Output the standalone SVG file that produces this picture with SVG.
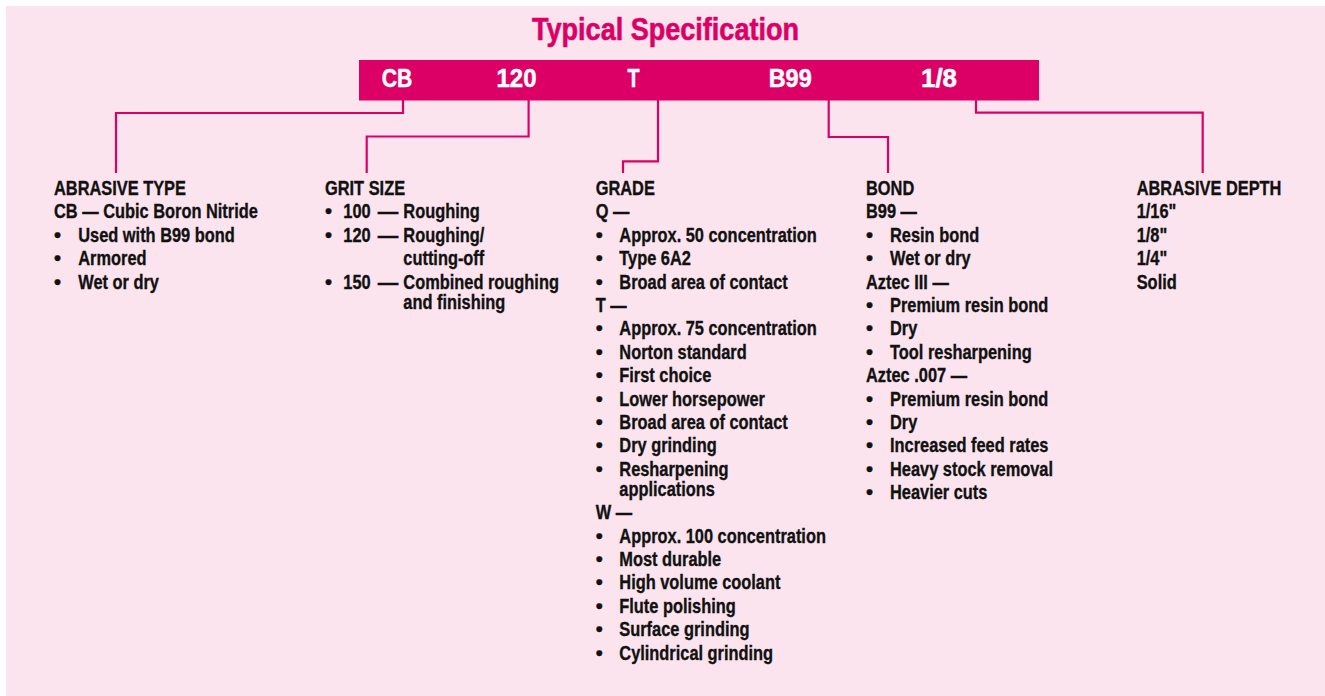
<svg xmlns="http://www.w3.org/2000/svg" width="1325" height="696" viewBox="0 0 1325 696">
<style>
.bg{fill:#fbe4ee}
.mag{fill:#dc0066}
.title{font-family:"Liberation Sans",Arial,sans-serif;font-weight:bold;font-size:32px;fill:#dc0066;stroke:#dc0066;stroke-width:0.6}
.code{font-family:"Liberation Sans",Arial,sans-serif;font-weight:bold;font-size:26px;fill:#fff;stroke:#fff;stroke-width:0.5;text-anchor:middle}
.b{font-family:"Liberation Sans",Arial,sans-serif;font-weight:bold;font-size:20px;fill:#111;stroke:#111;stroke-width:0.35}
.conn{fill:none;stroke:#dc0066;stroke-width:2.2}
</style>
<rect class="bg" x="6" y="6" width="1319" height="690"/>
<g id="title">
<text class="title" x="532" y="40" textLength="267" lengthAdjust="spacingAndGlyphs">Typical Specification</text>
</g>
<g id="spec-bar">
<rect class="mag" x="359" y="60" width="680" height="40.5"/>
<text class="code" x="397" y="87.3" textLength="30.6" lengthAdjust="spacingAndGlyphs">CB</text>
<text class="code" x="516.5" y="87.3" textLength="40" lengthAdjust="spacingAndGlyphs">120</text>
<text class="code" x="633.4" y="87.3" textLength="12" lengthAdjust="spacingAndGlyphs">T</text>
<text class="code" x="790.2" y="87.3" textLength="43" lengthAdjust="spacingAndGlyphs">B99</text>
<text class="code" x="939" y="87.3" textLength="36" lengthAdjust="spacingAndGlyphs">1/8</text>
</g>
<g id="connectors">
<path class="conn" d="M403,100 V113 H116 V173"/>
<path class="conn" d="M528.6,100 V136.5 H366.7 V173"/>
<path class="conn" d="M658,100 V161.3 H623 V173"/>
<path class="conn" d="M828.7,100 V137 H888 V173"/>
<path class="conn" d="M976,100 V112.7 H1202.7 V173"/>
</g>
<g id="abrasive-type">
<g class="b">
<text x="54" y="241.8">•</text>
<text x="54" y="265.2">•</text>
<text x="54" y="288.6">•</text>
</g>
<g transform="translate(54,0) scale(0.82,1)">
<text class="b" x="0" y="195">ABRASIVE TYPE</text>
<text class="b" x="0" y="218.4">CB — Cubic Boron Nitride</text>
<text class="b" x="29.6" y="241.8">Used with B99 bond</text>
<text class="b" x="29.6" y="265.2">Armored</text>
<text class="b" x="29.6" y="288.6">Wet or dry</text>
</g>
</g>
<g id="grit-size">
<g class="b">
<text x="325" y="218.4">•</text>
<text x="325" y="241.8">•</text>
<text x="325" y="288.6">•</text>
</g>
<g transform="translate(325,0) scale(0.82,1)">
<text class="b" x="0" y="195">GRIT SIZE</text>
<text class="b" x="22.3" y="218.4">100<tspan x="64.3" textLength="25" lengthAdjust="spacingAndGlyphs">—</tspan><tspan x="95.5">Roughing</tspan></text>
<text class="b" x="22.3" y="241.8">120<tspan x="64.3" textLength="25" lengthAdjust="spacingAndGlyphs">—</tspan><tspan x="95.5">Roughing/</tspan><tspan x="95.5" dy="23.4">cutting-off</tspan></text>
<text class="b" x="22.3" y="288.6">150<tspan x="64.3" textLength="25" lengthAdjust="spacingAndGlyphs">—</tspan><tspan x="95.5">Combined roughing</tspan><tspan x="95.5" dy="20">and finishing</tspan></text>
</g>
</g>
<g id="grade">
<g class="b">
<text x="595.7" y="241.8">•</text>
<text x="595.7" y="265.2">•</text>
<text x="595.7" y="288.6">•</text>
<text x="595.7" y="335.4">•</text>
<text x="595.7" y="358.8">•</text>
<text x="595.7" y="382.2">•</text>
<text x="595.7" y="405.6">•</text>
<text x="595.7" y="429">•</text>
<text x="595.7" y="452.4">•</text>
<text x="595.7" y="475.8">•</text>
<text x="595.7" y="542.6">•</text>
<text x="595.7" y="566">•</text>
<text x="595.7" y="589.4">•</text>
<text x="595.7" y="612.8">•</text>
<text x="595.7" y="636.2">•</text>
<text x="595.7" y="659.6">•</text>
</g>
<g transform="translate(595.7,0) scale(0.82,1)">
<text class="b" x="0" y="195">GRADE</text>
<text class="b" x="0" y="218.4">Q —</text>
<text class="b" x="28.8" y="241.8">Approx. 50 concentration</text>
<text class="b" x="28.8" y="265.2">Type 6A2</text>
<text class="b" x="28.8" y="288.6">Broad area of contact</text>
<text class="b" x="0" y="312">T —</text>
<text class="b" x="28.8" y="335.4">Approx. 75 concentration</text>
<text class="b" x="28.8" y="358.8">Norton standard</text>
<text class="b" x="28.8" y="382.2">First choice</text>
<text class="b" x="28.8" y="405.6">Lower horsepower</text>
<text class="b" x="28.8" y="429">Broad area of contact</text>
<text class="b" x="28.8" y="452.4">Dry grinding</text>
<text class="b" x="28.8" y="475.8">Resharpening<tspan x="28.8" dy="20">applications</tspan></text>
<text class="b" x="0" y="519.2">W —</text>
<text class="b" x="28.8" y="542.6">Approx. 100 concentration</text>
<text class="b" x="28.8" y="566">Most durable</text>
<text class="b" x="28.8" y="589.4">High volume coolant</text>
<text class="b" x="28.8" y="612.8">Flute polishing</text>
<text class="b" x="28.8" y="636.2">Surface grinding</text>
<text class="b" x="28.8" y="659.6">Cylindrical grinding</text>
</g>
</g>
<g id="bond">
<g class="b">
<text x="866" y="241.8">•</text>
<text x="866" y="265.2">•</text>
<text x="866" y="312">•</text>
<text x="866" y="335.4">•</text>
<text x="866" y="358.8">•</text>
<text x="866" y="405.6">•</text>
<text x="866" y="429">•</text>
<text x="866" y="452.4">•</text>
<text x="866" y="475.8">•</text>
<text x="866" y="499.2">•</text>
</g>
<g transform="translate(866,0) scale(0.82,1)">
<text class="b" x="0" y="195">BOND</text>
<text class="b" x="0" y="218.4">B99 —</text>
<text class="b" x="29.3" y="241.8">Resin bond</text>
<text class="b" x="29.3" y="265.2">Wet or dry</text>
<text class="b" x="0" y="288.6">Aztec III —</text>
<text class="b" x="29.3" y="312">Premium resin bond</text>
<text class="b" x="29.3" y="335.4">Dry</text>
<text class="b" x="29.3" y="358.8">Tool resharpening</text>
<text class="b" x="0" y="382.2">Aztec .007 —</text>
<text class="b" x="29.3" y="405.6">Premium resin bond</text>
<text class="b" x="29.3" y="429">Dry</text>
<text class="b" x="29.3" y="452.4">Increased feed rates</text>
<text class="b" x="29.3" y="475.8">Heavy stock removal</text>
<text class="b" x="29.3" y="499.2">Heavier cuts</text>
</g>
</g>
<g id="abrasive-depth">
<g transform="translate(1136.7,0) scale(0.82,1)">
<text class="b" x="0" y="195">ABRASIVE DEPTH</text>
<text class="b" x="0" y="218.4">1/16&quot;</text>
<text class="b" x="0" y="241.8">1/8&quot;</text>
<text class="b" x="0" y="265.2">1/4&quot;</text>
<text class="b" x="0" y="288.6">Solid</text>
</g>
</g>
</svg>
